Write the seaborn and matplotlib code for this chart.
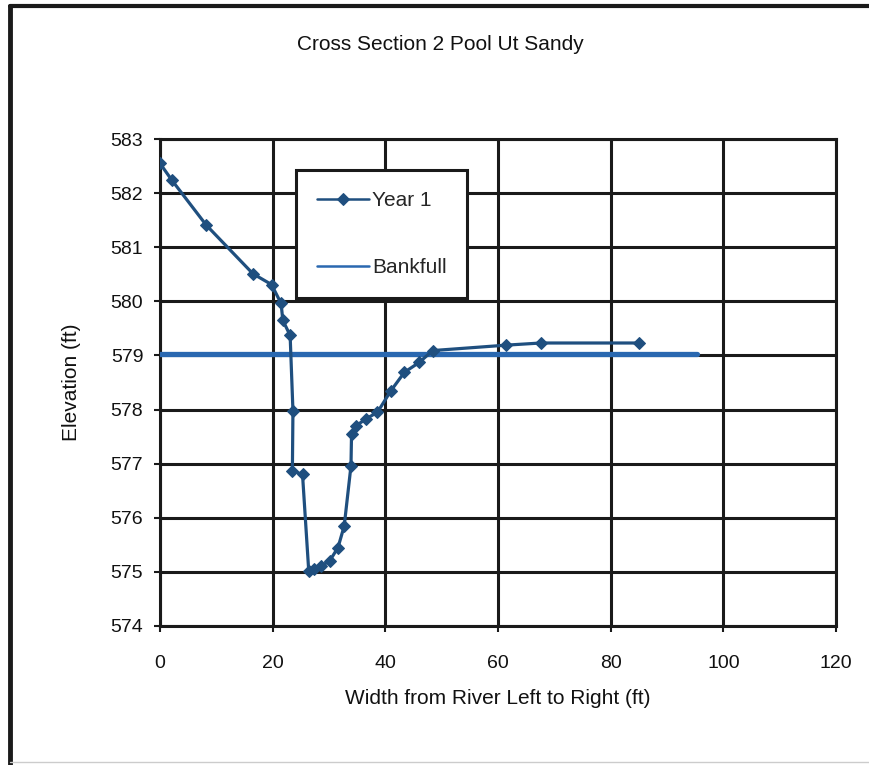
import matplotlib
matplotlib.use("Agg")
import matplotlib.pyplot as plt
import seaborn as sns
import pandas as pd
from matplotlib.lines import Line2D

# cross section survey
width_ft = [0, 2.1, 8.2, 16.5, 19.8, 21.5, 21.8, 23.1, 23.6, 23.5, 25.3, 26.4, 27.4,
            28.6, 30.1, 31.6, 32.7, 33.9, 34.0, 34.8, 36.6, 38.6, 41.0, 43.4, 46.0,
            48.4, 61.4, 67.6, 85.0]
elev_year1 = [582.55, 582.24, 581.41, 580.51, 580.31, 579.96, 579.65, 579.37, 577.98,
              576.87, 576.80, 575.02, 575.06, 575.11, 575.20, 575.45, 575.85, 576.96,
              577.55, 577.70, 577.83, 577.95, 578.35, 578.69, 578.87, 579.09, 579.19,
              579.23, 579.23]
bankfull_x = [0, 95.3]
bankfull_y = [579.03, 579.03]
x_ticks = [0, 20, 40, 60, 80, 100, 120]
y_ticks = [574, 575, 576, 577, 578, 579, 580, 581, 582, 583]

sns.set_theme(style="white")
plt.rcParams['font.family'] = ['Liberation Sans', 'DejaVu Sans']

year1 = pd.DataFrame({"x": width_ft, "y": elev_year1})
bank = pd.DataFrame({"x": bankfull_x, "y": bankfull_y})

fig = plt.figure(figsize=(8.69, 7.65), dpi=100)
ax = fig.add_axes([0.1841, 0.1817, 0.778, 0.6366])

sns.lineplot(data=bank, x="x", y="y", ax=ax, color="#2a68b0", lw=3.8,
             label="Bankfull", zorder=3)
sns.lineplot(data=year1, x="x", y="y", ax=ax, sort=False, color="#1f4f7f", lw=2.3,
             marker="D", markersize=6, markeredgecolor="#1f4f7f", label="Year 1",
             zorder=4)

ax.set_xlim(0, 120)
ax.set_ylim(574, 583)
ax.set_xticks(x_ticks)
ax.set_yticks(y_ticks)
ax.grid(True, color="#1a1a1a", lw=2.2)
ax.set_axisbelow(True)
for s in ax.spines.values():
    s.set_color("#1a1a1a")
    s.set_linewidth(2.2)
ax.tick_params(axis="both", which="major", direction="out", length=4, width=1.5,
               color="#1a1a1a", labelsize=14, labelcolor="#111111", left=True, bottom=True)
ax.tick_params(axis="x", pad=17)
ax.tick_params(axis="y", pad=8)

ax.set_xlabel("Width from River Left to Right (ft)", fontsize=15, labelpad=12, color="#111111")
ax.set_ylabel("Elevation (ft)", fontsize=15, labelpad=21, color="#111111")

handles, labels = ax.get_legend_handles_labels()
order = [labels.index("Year 1"), labels.index("Bankfull")]
leg = ax.legend([handles[i] for i in order], [labels[i] for i in order],
                loc="upper left", bbox_to_anchor=(0.201, 0.936), fontsize=15,
                frameon=True, fancybox=False, framealpha=1, edgecolor="#1a1a1a",
                labelspacing=2.3, borderpad=1.0, handlelength=2.5, handletextpad=0.15,
                borderaxespad=0)
leg.get_frame().set_linewidth(2.2)
leg.set_zorder(5)
for h in leg.legend_handles:
    h.set_linewidth(1.8)

fig.text(440 / 869, 1 - 45 / 765, "Cross Section 2 Pool Ut Sandy", ha="center",
         va="center", fontsize=15, color="#111111")

# outer frame of the scanned page
fig.add_artist(Line2D([0.011, 0.011], [0.0, 0.992], transform=fig.transFigure,
                      color="#1a1a1a", lw=3.5))
fig.add_artist(Line2D([0.011, 1.0], [0.992, 0.992], transform=fig.transFigure,
                      color="#1a1a1a", lw=3))
fig.add_artist(Line2D([0.011, 1.0], [0.004, 0.004], transform=fig.transFigure,
                      color="#cccccc", lw=1))

fig.savefig("out.png", dpi=100)
